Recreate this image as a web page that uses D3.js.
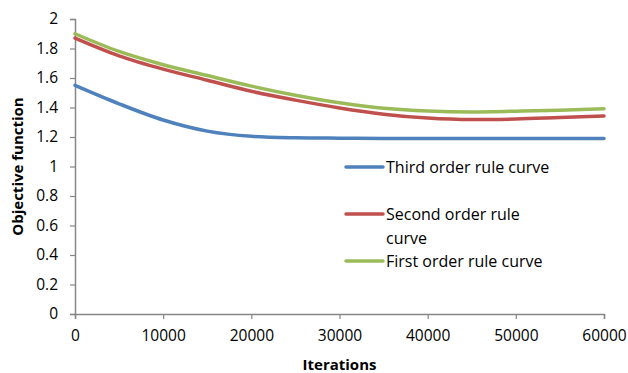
<!DOCTYPE html>
<html>
<head>
<meta charset="utf-8">
<script src="https://cdn.jsdelivr.net/npm/d3@7"></script>
<style>
  html, body { margin: 0; padding: 0; background: #ffffff; }
  svg { display: block; }
  text { font-family: "Open Sans", sans-serif; fill: #000; }
</style>
</head>
<body>
<svg id="chart" width="628" height="373"></svg>
<script>
const iterations = [0, 5000, 10000, 15000, 20000, 25000, 30000, 35000, 40000, 45000, 50000, 55000, 60000];
const thirdOrder = [1.55, 1.425, 1.315, 1.24, 1.205, 1.195, 1.192, 1.19, 1.19, 1.19, 1.19, 1.19, 1.19];
const secondOrder = [1.87, 1.75, 1.66, 1.585, 1.51, 1.45, 1.397, 1.355, 1.328, 1.318, 1.322, 1.332, 1.342];
const firstOrder = [1.90, 1.78, 1.69, 1.617, 1.545, 1.483, 1.432, 1.395, 1.376, 1.37, 1.375, 1.382, 1.392];
const seriesNames = ["Third order rule curve", "Second order rule\ncurve", "First order rule curve"];
const seriesColors = ["#4F81BD", "#C0504D", "#9BBB59"];
const xTicks = [0, 10000, 20000, 30000, 40000, 50000, 60000];
const yTicks = [0, 0.2, 0.4, 0.6, 0.8, 1, 1.2, 1.4, 1.6, 1.8, 2];

(function () {
const svg = d3.select("#chart");
const mLeft = 75, mRight = 604, mTop = 19, mBottom = 314;

const x = d3.scaleLinear().domain([0, 60000]).range([mLeft, mRight]);
const y = d3.scaleLinear().domain([0, 2]).range([mBottom, mTop]);

const axisColor = "#868686";

// X axis
const gx = svg.append("g").attr("transform", `translate(0,${mBottom})`)
  .call(d3.axisBottom(x).tickValues(xTicks).tickFormat(d3.format("d")).tickSize(5).tickPadding(11));
gx.select(".domain").attr("stroke", axisColor).attr("stroke-width", 1.5);
gx.selectAll(".tick line").attr("stroke", axisColor).attr("stroke-width", 1.2);
gx.selectAll(".tick text").attr("font-size", 15.5).attr("font-family", "Open Sans").attr("fill", "#000");

// Y axis
const gy = svg.append("g").attr("transform", `translate(${mLeft},0)`)
  .call(d3.axisLeft(y).tickValues(yTicks).tickFormat(d => String(+d.toFixed(1))).tickSize(5).tickPadding(12));
gy.select(".domain").attr("stroke", axisColor).attr("stroke-width", 1.5);
gy.selectAll(".tick line").attr("stroke", axisColor).attr("stroke-width", 1.2);
gy.selectAll(".tick text").attr("font-size", 15.5).attr("font-family", "Open Sans").attr("fill", "#000");

// Lines
const allSeries = [thirdOrder, secondOrder, firstOrder];
const line = d3.line()
  .x((d, i) => x(iterations[i]))
  .y(d => y(d))
  .curve(d3.curveMonotoneX);

allSeries.forEach((s, k) => {
  svg.append("path")
    .datum(s)
    .attr("fill", "none")
    .attr("stroke", seriesColors[k])
    .attr("stroke-width", 3.5)
    .attr("stroke-linecap", "round")
    .attr("d", line);
});

// Legend
const legendY = [167, 214, 261];
const legend = svg.append("g");
seriesNames.forEach((name, k) => {
  legend.append("line")
    .attr("x1", 346).attr("x2", 383)
    .attr("y1", legendY[k]).attr("y2", legendY[k])
    .attr("stroke", seriesColors[k]).attr("stroke-width", 3.5)
    .attr("stroke-linecap", "round");
  const parts = name.split("\n");
  parts.forEach((p, j) => {
    legend.append("text")
      .attr("x", 386)
      .attr("y", legendY[k] + 6 + j * 24)
      .attr("font-size", 16)
      .text(p);
  });
});

// Axis titles
svg.append("text")
  .attr("x", (mLeft + mRight) / 2)
  .attr("y", 370)
  .attr("text-anchor", "middle")
  .attr("font-size", 15)
  .attr("font-weight", "bold")
  .text("Iterations");

svg.append("text")
  .attr("transform", `translate(23,${(mTop + mBottom) / 2}) rotate(-90)`)
  .attr("text-anchor", "middle")
  .attr("font-size", 15)
  .attr("font-weight", "bold")
  .text("Objective function");
})();
</script>
</body>
</html>
